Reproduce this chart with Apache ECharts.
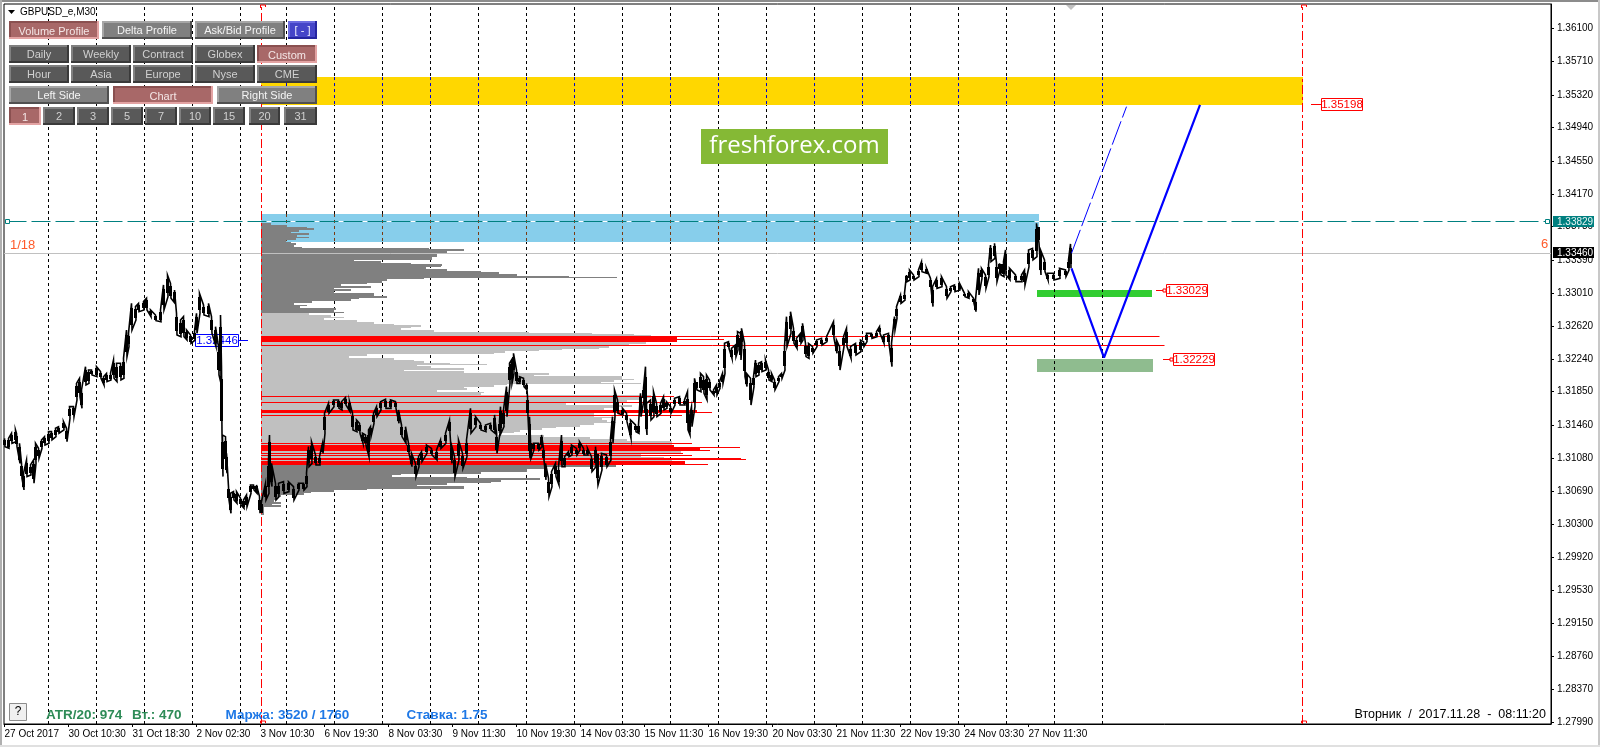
<!DOCTYPE html>
<html><head><meta charset="utf-8"><style>html,body{margin:0;padding:0;background:#fff}#c{width:1600px;height:747px}</style>
<script src="https://cdn.jsdelivr.net/npm/echarts@6/dist/echarts.min.js"></script></head><body><div id="c"></div>
<script>
const FONT='"Liberation Sans",Arial,sans-serif';
const FONT2=FONT;
// x axis: one unit = one M30 bar
const xTickBars=[0,64,128,192,256,320,384,448,512,576,640,704,768,832,896,960,1024];
const xTickLabels=['27 Oct 2017','30 Oct 10:30','31 Oct 18:30','2 Nov 02:30','3 Nov 10:30','6 Nov 19:30','8 Nov 03:30','9 Nov 11:30','10 Nov 19:30','14 Nov 03:30','15 Nov 11:30','16 Nov 19:30','20 Nov 03:30','21 Nov 11:30','22 Nov 19:30','24 Nov 03:30','27 Nov 11:30'];
const yTickValues=[1.36082,1.35697,1.35311,1.34926,1.34540,1.34155,1.33770,1.33384,1.32999,1.32613,1.32228,1.31843,1.31457,1.31072,1.30686,1.30301,1.29916,1.29530,1.29145,1.28759,1.28374,1.27989];
const yTickLabels=['1.36100','1.35710','1.35320','1.34940','1.34550','1.34170','1.33780','1.33390','1.33010','1.32620','1.32240','1.31850','1.31460','1.31080','1.30690','1.30300','1.29920','1.29530','1.29150','1.28760','1.28370','1.27990'];
const daySeparators=[44,92,140,188,236,282,330,378,426,474,522,570,618,666,714,762,810,858,906,954,1002,1050,1098];
// price samples (bar, high, low in points = 1e-5)
const priceBars=[0,4,7,11,12,15,17,19,22,26,29,31,34,37,40,44,47,51,54,59,62,65,69,72,75,77,81,84,87,92,96,99,102,106,109,112,116,119,122,124,127,131,134,139,142,146,151,156,159,163,166,170,172,176,179,182,186,190,192,195,199,204,207,211,214,216,217,218,221,222,224,226,229,232,236,239,242,246,249,252,255,257,261,264,265,267,271,274,279,284,289,294,299,302,304,307,311,315,318,320,324,329,334,337,341,345,348,352,355,358,361,364,366,369,372,376,381,386,391,394,397,401,404,407,411,414,417,422,427,432,436,441,445,447,450,454,458,462,466,471,476,481,486,490,492,495,
496,499,502,505,507,509,512,515,519,522,523,525,526,529,534,537,539,541,544,547,551,554,557,560,564,567,572,575,579,583,587,591,593,597,602,606,608,610,613,618,622,626,631,634,636,639,641,642,646,649,652,656,659,662,666,670,675,680,683,685,687,690,692,696,699,702,705,709,712,715,718,720,724,727,731,733,736,737,740,742,746,749,751,754,757,761,764,767,770,774,777,780,782,786,789,792,796,798,801,804,808,812,817,822,829,832,835,839,842,846,851,856,859,862,867,872,875,879,884,887,890,892,896,900,902,905,909,914,917,922,926,928,932,937,942,946,950,955,960,964,969,971,974,977,981,984,986,990,992,995,
996,999,1001,1005,1011,1017,1020,1024,1028,1032,1034,1036,1040,1043,1049,1055,1061,1064,1066];
const priceHighs=[131299,131299,131358,131397,131358,131241,131007,130891,131046,130988,131046,131241,131182,131280,131319,131377,131377,131416,131435,131494,131416,131669,131669,131941,132000,131864,132136,132097,132097,132136,132078,132019,132058,132058,132214,132175,132175,132233,132564,132525,132875,132837,132875,132895,132934,132798,132739,132798,133090,133206,133109,133031,132759,132681,132720,132564,132506,132545,132759,132992,132856,132875,132720,132603,132370,132739,132136,131338,131319,131124,130735,130657,130677,130677,130599,130579,130638,130754,130754,130754,130618,130560,130774,131046,131338,131007,130774,130774,130793,130793,130735,130774,130774,130891,131202,131260,131105,131085,131241,131591,131708,131747,131747,131727,131778,131727,131591,131513,131474,131358,131338,131397,131435,131591,131669,131727,131755,131747,131727,131630,131455,131435,131241,131124,131007,131085,131144,131221,131182,131163,131280,131358,131513,131221,131085,131280,131124,131280,131649,131552,131474,131455,131474,131572,131358,131494,
131669,131630,131903,132175,132214,132292,132097,132019,132000,131941,131786,131552,131280,131241,131241,131338,131182,131007,130832,130910,131007,130968,131338,131085,131144,131221,131182,131260,131182,131182,131085,131202,131202,131124,131105,131299,131552,131864,131747,131649,131591,131513,131455,131455,131825,131883,132136,131708,131747,131844,131708,131708,131786,131727,131669,131766,131786,131747,131844,131552,131669,132000,131980,132058,132019,132039,131980,131864,131922,131961,132058,132408,132428,132350,132389,132545,132525,132584,132408,132058,132000,132019,132214,132175,132194,132214,132097,132058,131980,132019,132058,132370,132720,132778,132584,132467,132525,132642,132408,132408,132370,132447,132467,132486,132661,132447,132370,132486,132584,132370,132408,132447,132428,132525,132525,132545,132603,132506,132525,132408,132720,132837,132973,132992,133206,133265,133206,133265,133362,133284,133167,133070,133167,133187,133070,133070,133090,133109,132992,133012,132934,132914,133284,133284,133206,133323,133557,133576,133343,133343,
133363,133363,133499,133285,133207,133207,133265,133499,133518,133810,133810,133499,133382,133226,133226,133285,133265,133382,133569];
const priceLows=[131202,131182,131241,131260,131202,131007,130832,130696,130852,130871,130774,131007,131066,131182,131221,131241,131280,131319,131358,131397,131260,131533,131552,131747,131786,131649,131922,131941,132039,132019,132000,131922,131961,131980,132000,131961,131980,132000,132253,132370,132564,132681,132778,132798,132798,132720,132673,132661,132798,132953,132934,132875,132506,132486,132486,132447,132408,132447,132525,132759,132739,132720,132525,132370,132039,131941,131358,130852,131007,130891,130579,130424,130579,130540,130521,130482,130501,130657,130696,130657,130424,130404,130579,130657,130852,130735,130579,130618,130657,130677,130579,130696,130696,130735,130968,131007,130988,130988,131124,131358,131591,131669,131649,131630,131688,131611,131397,131377,131358,131241,131221,131085,131319,131474,131552,131630,131649,131649,131649,131474,131319,131241,131124,130968,130852,130968,131027,131124,131105,131046,131182,131241,131358,131007,130852,131046,130949,131085,131358,131435,131397,131377,131397,131358,131124,131358,
131358,131435,131552,131941,131941,132058,131941,131941,131903,131864,131552,131066,131066,131163,131163,131202,131046,130813,130618,130735,130852,130754,130968,130968,131085,131105,131105,131163,131105,131105,130910,130968,130754,130929,130968,131046,131241,131552,131591,131572,131494,131299,131377,131358,131552,131747,131474,131338,131513,131552,131552,131591,131630,131649,131591,131688,131688,131688,131397,131338,131435,131669,131864,131844,131825,131747,131864,131805,131805,131883,131941,132058,132350,132233,132253,132331,132214,132389,132019,131903,131688,131903,132019,132039,132078,132097,131980,131961,131864,131961,132000,132097,132370,132525,132408,132350,132408,132447,132253,132233,132292,132370,132389,132428,132467,132292,132097,132370,132370,132233,132272,132311,132370,132428,132467,132486,132525,132408,132408,132136,132564,132700,132875,132914,133129,133148,133148,133187,133245,133226,133051,132837,133051,133070,132934,133012,133012,133031,132953,132934,132875,132778,132973,133167,133051,133187,133362,133401,133129,133265,
133207,133187,133207,133149,133129,133129,133090,133304,133382,133421,133577,133207,133246,133149,133149,133168,133187,133265,133285];
// volume profile: rows between consecutive levels (points), ending at a bar
const profileStart=256.5;
const profileLevels=[133817,133810,133790,133771,133751,133732,133712,133693,133673,133654,133634,133615,133595,133576,133557,133537,133525,133506,133487,133467,133448,133420,133381,133366,133350,133335,133315,133296,133276,133257,133237,133218,133191,133179,133171,133156,133136,133117,133101,133078,133058,133039,133015,132992,132961,132942,132922,132903,132879,132860,132840,132821,132798,132778,132767,132739,132720,132700,132681,132654,132634,132619,132603,132584,132564,132545,132529,132513,132502,132424,132405,132389,132373,132358,132346,132330,132315,132299,132284,132260,132241,132218,132198,132183,132167,132155,132140,132120,132101,132082,132062,132043,132023,131996,131980,131961,131949,131938,131922,131903,131883,131864,131844,131825,131809,131770,131747,131712,131692,131669,131649,131591,131552,131533,131513,131494,131474,131455,131435,131416,131397,131377,131358,131338,131311,131287,131264,131221,131163,131124,131093,131077,131046,131007,130988,130968,130945,130918,130902,130887,130871,130852,130832,130813,130793,130774,130754,130739,130712,130696,130677,130657,130638,130618,130579,130556,130536,130521,130501,130404];
const profileEnds=[266,266,282,302,309,294,286,304,292,304,291,281,286,291,289,297,424,459,442,442,432,427,349,376,406,437,436,421,442,476,494,512,564,612,419,382,377,362,336,366,329,346,329,369,382,354,346,307,289,302,295,331,329,339,304,326,339,319,352,369,389,416,406,396,429,524,587,629,646,641,624,612,604,594,557,534,500,489,362,344,389,409,419,445,482,412,426,459,399,459,544,529,617,629,609,596,636,502,489,459,462,432,479,476,646,636,622,561,627,609,599,589,609,597,602,611,589,575,551,537,515,509,493,539,585,622,667,669,676,636,636,659,667,611,611,541,522,522,476,396,387,462,535,496,486,442,412,459,362,329,306,299,276,272,269,276,267,276,259];
const valueAreaHigh=132767, valueAreaLow=130988;
// high-volume nodes drawn red (top, bottom in points, end bar)
const nodeTops=[132486,132463,132443,131790,131728,131630,131610,131568,131241,131221,131202,131182,131163,131124,131101,131066,131058,131034,130998];
const nodeBottoms=[132424,132447,132424,131783,131712,131591,131595,131560,131233,131202,131182,131163,131148,131116,131093,131054,131046,130995,130990];
const nodeEnds=[672,719,672,669,697,692,707,677,687,669,735,695,705,678,687,736,741,680,703];
const levelLines=[[1.32491,1155],[1.32386,1160]];
// zones: start bar, end bar, high, low
const zones={gold:[256.5,1298,1.35518,1.35191],sky:[256.5,1034.5,1.33919,1.33592],green:[1032.5,1147.5,1.33029,1.32945],sea:[1032.5,1148.5,1.32229,1.32075]};
const forecastBars=[1067,1099.5,1195.5], forecastPrices=[1.33285,1.32241,1.35192];
const altBars=[1067,1122], altPrices=[1.33460,1.35172];
const currentPrice=1.33460, levelPrice=1.33829;
const sessionBars=[256.5,1297.8];
const C={gridBlack:'#000',gridSky:'#7a3a10',gridGold:'#0000d0'};

const xMin=-0.5,xMax=1546.5,yMin=1.27963,yMax=1.36371;
const chart=echarts.init(document.getElementById('c'),null,{renderer:'canvas'});

function segSeries(name,z,segs){
  return {type:'custom',name,z,silent:true,clip:false,animation:false,data:segs.map((s,i)=>[i]),encode:{x:[],y:[]},
    renderItem(p,api){
      const s=segs[api.value(0)];
      let a=api.coord([s.x0,s.y0]),b=api.coord([s.x1,s.y1]);
      if(s.x0===s.x1){a[0]=b[0]=Math.floor(a[0])+0.5;}
      if(s.y0===s.y1){a[1]=b[1]=Math.floor(a[1])+0.5;}
      return {type:'line',shape:{x1:a[0],y1:a[1],x2:b[0],y2:b[1]},style:{stroke:s.color,lineWidth:s.width||1,lineDash:s.dash||null}};
    }};
}
function rectSeries(name,z,rows){
  return {type:'custom',name,z,silent:true,clip:false,animation:false,data:rows.map((r,i)=>[i]),encode:{x:[],y:[]},
    renderItem(p,api){
      const r=rows[api.value(0)];
      const a=api.coord([r[0],r[2]]),b=api.coord([r[1],r[3]]);
      const x=Math.round(a[0]),y=Math.round(a[1]);
      return {type:'rect',shape:{x,y,width:Math.round(b[0])-x,height:Math.max(1,Math.round(b[1])-y)},style:{fill:r[4]}};
    }};
}
const P=1e-5;
const profileRows=profileEnds.map((e,k)=>{
  const top=profileLevels[k],bot=profileLevels[k+1];
  const dark=top>valueAreaHigh||top<=valueAreaLow;
  return [profileStart,e,top*P,bot*P,dark?'#808080':'#c0c0c0'];
});
const nodeRows=nodeEnds.map((e,k)=>[profileStart,e,nodeTops[k]*P,nodeBottoms[k]*P,'#ff0000']);
const priceLine=[];
priceBars.forEach((b,k)=>{
  const h=[b,priceHighs[k]*P],l=[b+0.5,priceLows[k]*P];
  if(k%2){priceLine.push(l,h);}else{priceLine.push(h,l);}
});
const priceBodies=priceBars.map((b,k)=>[b-1.5,b+1.5,priceHighs[k]*P-(priceHighs[k]-priceLows[k])*P*0.18,priceLows[k]*P+(priceHighs[k]-priceLows[k])*P*0.18,'#000']);
const vert=(list,y0,y1,color,dash)=>list.map(x=>({x0:x,x1:x,y0,y1,color,dash}));
const inBand=(lo,hi)=>daySeparators.filter(d=>d>lo&&d<hi);

// price tags: bar, price, text, colours, side
const tags=[
 {bar:1306.5,price:1.35198,text:'1.35198',w:41,color:'#ff0000',fill:'#fff',lead:10},
 {bar:1151.5,price:1.33029,text:'1.33029',w:41,color:'#ff0000',fill:'#fff',lead:10,sq:1},
 {bar:1158.5,price:1.32229,text:'1.32229',w:41,color:'#ff0000',fill:'#fff',lead:10,sq:1},
 {bar:190.5,price:1.32446,text:'1.32446',w:43,color:'#0000ff',fill:null,lead:-10}
];
const tagSeries={type:'custom',z:6,silent:true,clip:false,animation:false,data:tags.map((t,i)=>[i]),encode:{x:[],y:[]},
 renderItem(p,api){
  const t=tags[api.value(0)],c=api.coord([t.bar,t.price]);
  const x=Math.round(c[0]),y=Math.round(c[1])+0.5,h=12;const kids=[];
  const bx=t.lead>0?x+t.lead:x;
  if(t.lead>0){kids.push({type:'line',shape:{x1:x,y1:y,x2:bx,y2:y},style:{stroke:t.color,lineWidth:1}});
    if(t.sq)kids.push({type:'rect',shape:{x:bx-3,y:y-1.5,width:3,height:3},style:{fill:'#fff',stroke:t.color,lineWidth:1}});}
  else kids.push({type:'line',shape:{x1:bx+t.w,y1:y,x2:bx+t.w-t.lead,y2:y},style:{stroke:t.color,lineWidth:1}});
  kids.push({type:'rect',shape:{x:bx+0.5,y:y-h/2,width:t.w,height:h},style:{fill:t.fill||'transparent',stroke:t.color,lineWidth:1}});
  kids.push({type:'text',style:{x:bx+t.w/2+0.5,y:y+0.5,text:t.text,fill:t.color,font:'11.5px '+FONT,textAlign:'center',textVerticalAlign:'middle'}});
  return {type:'group',children:kids};
 }};
const axisTags=[{price:levelPrice,text:'1.33829',fill:'#008080',color:'#e8f4f4'},{price:currentPrice,text:'1.33460',fill:'#000',color:'#fff'}];
const axisTagSeries={type:'custom',z:10,silent:true,clip:false,animation:false,data:axisTags.map((t,i)=>[i]),encode:{x:[],y:[]},
 renderItem(p,api){
  const t=axisTags[api.value(0)],c=api.coord([xMax,t.price]);
  const y=Math.round(c[1]);
  return {type:'group',children:[
   {type:'rect',shape:{x:c[0]+2,y:y-6,width:41,height:11},style:{fill:t.fill}},
   {type:'text',style:{x:c[0]+6,y:y,text:t.text,fill:t.color,font:'10px '+FONT,textAlign:'left',textVerticalAlign:'middle'}}]};
 }};
const hookSeries={type:'custom',z:9,silent:true,clip:false,animation:false,data:sessionBars.map((b,i)=>[b,i]),encode:{x:[0],y:[]},
 renderItem(p,api){
  const t=api.coord([api.value(0),yMax]),b=api.coord([api.value(0),yMin]);
  const x=Math.floor(t[0])+0.5;
  return {type:'group',children:[
   {type:'polyline',shape:{points:[[x-1,t[1]+4],[x-1,t[1]+1],[x+4,t[1]+1],[x+4,t[1]+3]]},style:{stroke:'#ff0000',fill:null,lineWidth:1}},
   {type:'polyline',shape:{points:[[x-1,b[1]-1],[x-1,b[1]-3],[x+4,b[1]-3],[x+4,b[1]-1]]},style:{stroke:'#ff0000',fill:null,lineWidth:1}}]};
 }};

const series=[
 rectSeries('softZones',1,[[...zones.green,'#32cd32'],[...zones.sea,'#8fbc8f']]),
 segSeries('daySeparators',2,vert(daySeparators,yMin,yMax,C.gridBlack,[3,3])),
 rectSeries('boxZones',3,[[...zones.gold,'#ffd700'],[...zones.sky,'#87ceeb']]),
 segSeries('sepOnBoxes',3.5,[...vert(inBand(zones.gold[0],zones.gold[1]),zones.gold[2],zones.gold[3],C.gridGold,[3,3]),...vert(inBand(zones.sky[0],zones.sky[1]),zones.sky[2],zones.sky[3],C.gridSky,[3,3])]),
 rectSeries('profile',4,profileRows),
 rectSeries('nodes',5,nodeRows),
 segSeries('levels',5.5,[
   {x0:xMin,x1:xMax,y0:currentPrice,y1:currentPrice,color:'#c0c0c0'},
   ...levelLines.map(l=>({x0:profileStart,x1:l[1],y0:l[0],y1:l[0],color:'#ff0000'})),
   ...sessionBars.map(b=>({x0:b,x1:b,y0:yMin,y1:yMax,color:'#ff0000',dash:[9,3,3,3]}))]),
 tagSeries,
 rectSeries('priceBodies',7,priceBodies),
 {type:'line',name:'GBPUSD',z:7,data:priceLine,showSymbol:false,sampling:null,lineStyle:{color:'#000',width:1.6,join:'miter'},silent:true,animation:false},
 {type:'line',name:'forecast',z:8,data:forecastBars.map((b,i)=>[b,forecastPrices[i]]),showSymbol:false,lineStyle:{color:'#0000ff',width:2.2},silent:true,animation:false},
 {type:'line',name:'alt',z:8,data:altBars.map((b,i)=>[b,altPrices[i]]),showSymbol:false,lineStyle:{color:'#0000ff',width:1,type:[25,4]},silent:true,animation:false},
 segSeries('levelGap',8.5,[{x0:profileStart,x1:zones.sky[1],y0:levelPrice,y1:levelPrice,color:'#fff'}]),
 segSeries('level',9,[{x0:3,x1:1543,y0:levelPrice,y1:levelPrice,color:'#008080',dash:[19,5]}]),
 {type:'custom',z:9,silent:true,clip:false,animation:false,data:[[3,levelPrice],[1543,levelPrice]],encode:{x:0,y:1},
  renderItem(p,api){const c=api.coord([api.value(0),api.value(1)]);const x=Math.floor(c[0])+0.5,y=Math.floor(c[1])+0.5;
   return {type:'rect',shape:{x:x-2,y:y-2,width:4,height:4},style:{fill:'#fff',stroke:'#008080',lineWidth:1}};}},
 hookSeries,axisTagSeries
];

// interface panel
const BTN={dark:['#595959','#808080','#3a3a3a','#d0d0d0'],mid:['#808080','#a6a6a6','#505050','#f4f4f4'],on:['#a86868','#8a5050','#e3a3a3','#f4e6e6'],blue:['#4545c8','#6c6ce0','#2525a0','#f0f0ff']};
const buttons=[
 [9,21,90,18,'Volume Profile','on'],[102,21,90,18,'Delta Profile','mid'],[195,21,90,18,'Ask/Bid Profile','mid'],[288,21,29,18,'[ - ]','blue'],
 [9,45,60,18,'Daily','dark'],[71,45,60,18,'Weekly','dark'],[133,45,60,18,'Contract','dark'],[195,45,60,18,'Globex','dark'],[257,45,60,18,'Custom','on'],
 [9,65,60,18,'Hour','dark'],[71,65,60,18,'Asia','dark'],[133,65,60,18,'Europe','dark'],[195,65,60,18,'Nyse','dark'],[257,65,60,18,'CME','dark'],
 [9,86,100,18,'Left Side','mid'],[113,86,100,18,'Chart','on'],[217,86,100,18,'Right Side','mid'],
 [9,107,32,18,'1','on'],[43,107,32,18,'2','dark'],[77,107,32,18,'3','dark'],[111,107,32,18,'5','dark'],[145,107,32,18,'7','dark'],[179,107,32,18,'10','dark'],[213,107,32,18,'15','dark'],[249,107,31,18,'20','dark'],[284,107,33,18,'31','dark']];
const g=[];
const R=(x,y,w,h,fill,extra)=>g.push(Object.assign({type:'rect',z:100,shape:{x,y,width:w,height:h},style:{fill},silent:true},extra||{}));
const T=(x,y,text,font,fill,align)=>g.push({type:'text',z:101,silent:true,style:{x,y,text,font,fill,textAlign:align||'left',textVerticalAlign:'middle'}});
buttons.forEach(([x,y,w,h,t,k])=>{const c=BTN[k];
 R(x,y,w,h,c[2]);R(x,y,w-2,h-2,c[1]);R(x+2,y+2,w-4,h-4,c[0]);
 T(x+w/2,y+h/2+(k==='on'?2:1),t,'11px '+FONT2,c[3],'center');});
R(0,0,1600,2,'#8c8c8c');R(0,0,2,747,'#b0b0b0');R(1598,0,2,747,'#c8c8c8');R(0,745,1600,2,'#e0e0e0');
g.push({type:'polygon',z:101,silent:true,shape:{points:[[8,10],[15,10],[11.5,14]]},style:{fill:'#000'}});
g.push({type:'polygon',z:101,silent:true,shape:{points:[[1066,5],[1076,5],[1071,10]]},style:{fill:'#c0c0c0'}});
T(20,12.5,'GBPUSD_e,M30','10px '+FONT2,'#000');
R(701,129,187,35,'#85b935');T(794.5,146,'freshforex.com','24px "Open Sans","Noto Sans",sans-serif','#fff','center');
T(10,245,'1/18','13px '+FONT2,'#ff5a2a');T(1541,244,'6','13px '+FONT2,'#ff5a2a');
R(9.5,703.5,17,17,'#f0f0f0',{style:{fill:'#f0f0f0',stroke:'#8c8c8c',lineWidth:1}});T(18,712,'?','12px '+FONT2,'#000','center');
T(46,715.5,'ATR/20: 974','bold 13.5px '+FONT2,'#2e8b57');T(132,715.5,'Вт.: 470','bold 13.5px '+FONT2,'#2e8b57');
T(225.5,715.5,'Маржа: 3520 / 1760','bold 13.5px '+FONT2,'#1e78e6');T(406.5,715.5,'Ставка: 1.75','bold 13.5px '+FONT2,'#1e78e6');
T(1546,715,'Вторник  /  2017.11.28  -  08:11:20','12.5px '+FONT2,'#000','right');

chart.setOption({animation:false,backgroundColor:'#fff',
 grid:{show:true,left:4,top:4,width:1547,height:720,borderColor:'#000',borderWidth:1,backgroundColor:'#fff',containLabel:false},
 xAxis:{type:'value',min:xMin,max:xMax,splitLine:{show:false},
  axisLine:{show:true,lineStyle:{color:'#000'},onZero:false},
  axisTick:{show:true,customValues:xTickBars,length:3,lineStyle:{color:'#000'}},
  axisLabel:{show:true,customValues:xTickBars,align:'left',margin:5,color:'#000',fontFamily:FONT,fontSize:10,hideOverlap:false,showMinLabel:true,showMaxLabel:true,
   formatter:v=>xTickLabels[xTickBars.indexOf(Math.round(v))]||''}},
 yAxis:{type:'value',position:'right',min:yMin,max:yMax,scale:true,splitLine:{show:false},
  axisLine:{show:true,lineStyle:{color:'#000'},onZero:false},
  axisTick:{show:true,customValues:yTickValues,length:3,lineStyle:{color:'#000'}},
  axisLabel:{show:true,customValues:yTickValues,margin:6,color:'#000',fontFamily:FONT,fontSize:10,hideOverlap:false,
   formatter:v=>yTickLabels[yTickValues.findIndex(t=>Math.abs(t-v)<1e-6)]||''}},
 series,graphic:{elements:g}});
</script></body></html>
